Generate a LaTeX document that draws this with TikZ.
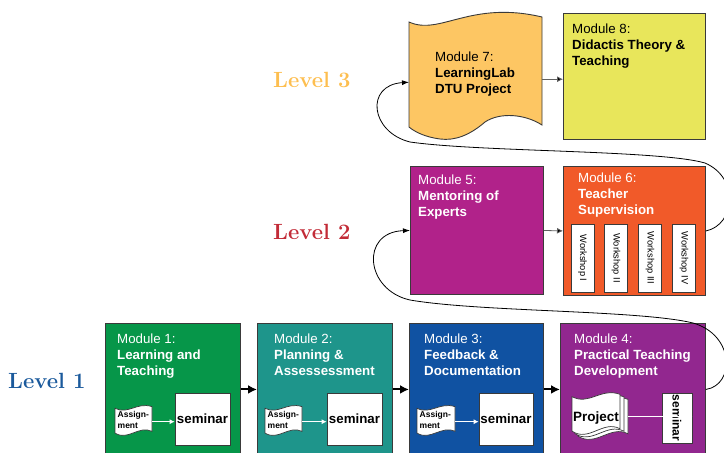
\documentclass[tikz,border=0pt]{standalone}
\usepackage{fontspec}
\newfontfamily\arialf{Liberation Sans}
\usetikzlibrary{arrows.meta}
\definecolor{cm1}{HTML}{069649}
\definecolor{cm2}{HTML}{1E958B}
\definecolor{cm3}{HTML}{1052A2}
\definecolor{cm4}{HTML}{92278F}
\definecolor{cm5}{HTML}{B1228A}
\definecolor{cm6}{HTML}{F15A29}
\definecolor{cm7}{HTML}{FDC663}
\definecolor{cm8}{HTML}{E8E65B}
\definecolor{lv1}{HTML}{1B5A9C}
\definecolor{lv2}{HTML}{C22B37}
\definecolor{lv3}{HTML}{FDBE4F}
\definecolor{bord}{HTML}{3A3A3A}
\newcommand\wavedoc[4]{%
  \draw[docline, shift={(#1,#2)}, xscale=#3, yscale=#4]
    (0,0.1) .. controls (0.35,0.3) and (0.6,-0.1) .. (1,0.05) -- (1,0.8)
    .. controls (0.65,0.6) and (0.35,1.1) .. (0,0.85) -- cycle;}
\begin{document}
\begin{tikzpicture}[x=1pt,y=-1pt,
  modbox/.style={draw=bord, line width=0.9pt, inner sep=0pt, anchor=north west},
  modtext/.style={font=\arialf\fontsize{13.3}{15.6}\selectfont, text=white, align=left, inner sep=0pt, anchor=base west},
  leveltext/.style={font=\bfseries\fontsize{22}{25}\selectfont, inner sep=0pt, anchor=base west},
  docline/.style={draw=bord, line width=0.7pt, fill=white},
  sembox/.style={draw=bord, line width=0.7pt, fill=white, inner sep=0pt, font=\arialf\bfseries\fontsize{13.3}{15}\selectfont},
  wsbox/.style={draw=bord, line width=0.7pt, fill=white, inner sep=0pt, rotate=-90, minimum width=68pt, minimum height=23pt, font=\arialf\fontsize{9.3}{10}\selectfont},
  asgtext/.style={font=\arialf\bfseries\fontsize{8.5}{10.5}\selectfont, align=left, inner sep=0pt, anchor=base west},
  ghost/.style={inner sep=0pt, anchor=north west},
  thickarrow/.style={line width=2pt, -{Latex[length=9pt,width=9pt]}},
  thinarrow/.style={draw=bord!80, line width=0.8pt, -{Latex[length=6pt,width=6pt,fill=black]}},
  whitearrow/.style={draw=white, line width=0.8pt, -{Latex[length=5pt,width=5pt]}},
  curve/.style={line width=0.8pt, -{Latex[length=7pt,width=5pt]}}
]
\useasboundingbox (0,0) rectangle (724,453);
\clip (0,0) rectangle (724,453);

% level labels
\node[leveltext, text=lv3] (l3) at (273,87) {Level 3};
\node[leveltext, text=lv2] (l2) at (273,239) {Level 2};
\node[leveltext, text=lv1] (l1) at (8,388) {Level 1};

% level 1 modules
\node[modbox, fill=cm1, minimum width=135pt, minimum height=132pt] (m1) at (105,323) {};
\node[modbox, fill=cm2, minimum width=135pt, minimum height=132pt] (m2) at (257,323) {};
\node[modbox, fill=cm3, minimum width=134pt, minimum height=132pt] (m3) at (409,323) {};
\node[modbox, fill=cm4, minimum width=145pt, minimum height=132pt] (m4) at (560,323) {};

% (anchor = baseline of the last line)
\node[modtext] (t1) at (117,375) {Module 1:\\\textbf{Learning and}\\\textbf{Teaching}};
\node[modtext] (t2) at (274,375) {Module 2:\\\textbf{Planning \&}\\\textbf{Assessessment}};
\node[modtext] (t3) at (424,375) {Module 3:\\\textbf{Feedback \&}\\\textbf{Documentation}};
\node[modtext] (t4) at (574,375) {Module 4:\\\textbf{Practical Teaching}\\\textbf{Development}};

% assignments and seminars
\wavedoc{115}{405}{37}{33}
\node[ghost, minimum width=37pt, minimum height=33pt] (a1) at (115,405) {};
\node[asgtext] (at1) at (117.5,428) {Assign-\\ment};
\node[sembox, minimum width=55pt, minimum height=52pt] (s1) at (202.5,419) {seminar};
\draw[whitearrow] (a1.east) -- (a1.east -| s1.west);

\wavedoc{265}{405}{37}{33}
\node[ghost, minimum width=37pt, minimum height=33pt] (a2) at (265,405) {};
\node[asgtext] (at2) at (267.5,428) {Assign-\\ment};
\node[sembox, minimum width=55pt, minimum height=52pt] (s2) at (354.5,419) {seminar};
\draw[whitearrow] (a2.east) -- (a2.east -| s2.west);

\wavedoc{417}{405}{38}{33}
\node[ghost, minimum width=38pt, minimum height=33pt] (a3) at (417,405) {};
\node[asgtext] (at3) at (419.5,428) {Assign-\\ment};
\node[sembox, minimum width=54pt, minimum height=52pt] (s3) at (506,419) {seminar};
\draw[whitearrow] (a3.east) -- (a3.east -| s3.west);

% project stack
\wavedoc{578}{397}{50}{46}
\wavedoc{575}{394.5}{49}{46}
\wavedoc{572}{392}{48}{46}
\node[ghost, minimum width=56pt, minimum height=53pt] (p4) at (572,390) {};
\node[font=\arialf\bfseries\fontsize{13.5}{15}\selectfont, inner sep=0pt, anchor=base] (pt4) at (596,421) {Project};
\node[sembox, rotate=-90, minimum width=50pt, minimum height=30pt, font=\arialf\bfseries\fontsize{12}{14}\selectfont] (s4) at (677,418) {seminar};
\draw[whitearrow] (p4.east) -- (p4.east -| s4.north);

% level 1 arrows
\draw[thickarrow] (m1.east) -- (m2.west);
\draw[thickarrow] (m2.east) -- (m3.west);
\draw[thickarrow] (m3.east) -- (m4.west);

% level 2
\node[modbox, fill=cm5, minimum width=133pt, minimum height=128pt] (m5) at (410,166) {};
\node[modbox, fill=cm6, minimum width=142pt, minimum height=129pt] (m6) at (563,166) {};
\node[modtext] (t5) at (418,216) {Module 5:\\\textbf{Mentoring of}\\\textbf{Experts}};
\node[modtext] (t6) at (578,214) {Module 6:\\\textbf{Teacher}\\\textbf{Supervision}};
\node[wsbox] (w1) at (582.5,258) {Workshop I};
\node[wsbox] (w2) at (616,258) {Workshop II};
\node[wsbox] (w3) at (650,258) {Workshop III};
\node[wsbox] (w4) at (684,258) {Workshop IV};
\draw[thinarrow] (m5.east) -- (m6.west);

% level 3
\node[ghost, minimum width=133pt, minimum height=126pt] (m7) at (409,13) {};
\draw[draw=bord, line width=0.9pt, fill=cm7]
  (409,22) .. controls (440,36) and (470,0) .. (542,17) -- (542,125)
  .. controls (525,114) and (500,112) .. (485,122)
  .. controls (470,135) and (455,141) .. (440,139)
  .. controls (425,137) and (415,132) .. (409,127) -- cycle;
\node[modbox, fill=cm8, minimum width=142pt, minimum height=126pt] (m8) at (563,13) {};
\node[modtext, text=black] (t7) at (435,93) {Module 7:\\\textbf{LearningLab}\\\textbf{DTU Project}};
\node[modtext, text=black] (t8) at (572,65) {Module 8:\\\textbf{Didactis Theory \&}\\\textbf{Teaching}};
\draw[thinarrow] ([yshift=-3pt]m7.east) -- ([yshift=-3pt]m7.east -| m8.west);

% loop connectors
\coordinate (ca1) at (693,323);
\coordinate (ca2) at (410,300);
\draw[curve] (m4.east) .. controls (735,385) and (735,335) .. (ca1)
  .. controls (640,310) and (480,312) .. (ca2)
  .. controls (365,290) and (360,232) .. (m5.west);
\coordinate (cb1) at (705,163);
\coordinate (cb2) at (410,142);
\draw[curve] (m6.east) .. controls (735,225) and (740,178) .. (cb1)
  .. controls (660,150) and (480,152) .. (cb2)
  .. controls (370,132) and (365,85) .. ([yshift=-6pt]m7.west);
\end{tikzpicture}
\end{document}
